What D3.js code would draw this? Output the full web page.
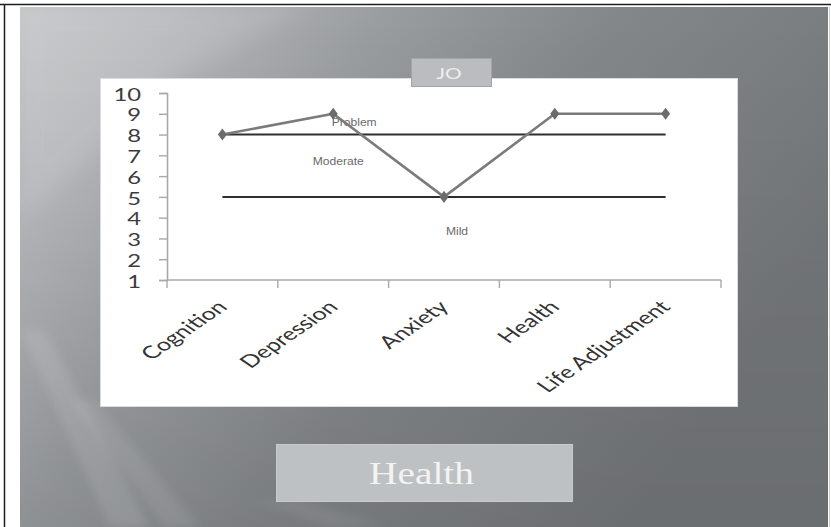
<!DOCTYPE html>
<html>
<head>
<meta charset="utf-8">
<script src="https://cdn.jsdelivr.net/npm/d3@7"></script>
<style>
  html, body { margin: 0; padding: 0; background: #ffffff; overflow: hidden; }
  svg { display: block; }
</style>
</head>
<body>
<svg id="chart" width="831" height="527"></svg>
<script>
// ---- data -------------------------------------------------------------
const categories = ["Cognition", "Depression", "Anxiety", "Health", "Life Adjustment"];
const scores = [8, 9, 5, 9, 9];
const thresholds = [8, 5];                     // problem / moderate, moderate / mild
const zoneLabels = ["Problem", "Moderate", "Mild"];
const yTicks = [1, 2, 3, 4, 5, 6, 7, 8, 9, 10];
const seriesName = "JO";
const slideTitle = "Health";

// ---- helpers ----------------------------------------------------------
// widen text horizontally by factor k while keeping its anchor
function widen(sel, k) {
  sel.each(function () {
    const w = this.getComputedTextLength();
    this.setAttribute("textLength", w * k);
    this.setAttribute("lengthAdjust", "spacingAndGlyphs");
  });
}

const svg = d3.select("#chart");
const defs = svg.append("defs");

// ---- slide background -------------------------------------------------
const bg = defs.append("linearGradient").attr("id", "slideBg")
  .attr("x1", 0).attr("y1", 0).attr("x2", 1).attr("y2", 0.45);
[[0, "#c3c5c7"], [0.16, "#b6b8bb"], [0.38, "#9a9da0"], [0.62, "#84878a"], [1, "#74777a"]]
  .forEach(([o, c]) => bg.append("stop").attr("offset", o).attr("stop-color", c));

const shade = defs.append("linearGradient").attr("id", "slideShade")
  .attr("x1", 0).attr("y1", 0).attr("x2", 0).attr("y2", 1);
shade.append("stop").attr("offset", 0).attr("stop-color", "#000").attr("stop-opacity", 0);
shade.append("stop").attr("offset", 1).attr("stop-color", "#000").attr("stop-opacity", 0.08);

defs.append("filter").attr("id", "soft").attr("x", "-50%").attr("y", "-50%")
  .attr("width", "200%").attr("height", "200%")
  .append("feGaussianBlur").attr("stdDeviation", 10);
defs.append("filter").attr("id", "softer").attr("x", "-50%").attr("y", "-50%")
  .attr("width", "200%").attr("height", "200%")
  .append("feGaussianBlur").attr("stdDeviation", 4);

defs.append("clipPath").attr("id", "slideClip")
  .append("rect").attr("x", 20).attr("y", 7).attr("width", 808).attr("height", 520);

const slide = svg.append("g").attr("clip-path", "url(#slideClip)");
slide.append("rect").attr("x", 20).attr("y", 7).attr("width", 808).attr("height", 520)
  .attr("fill", "url(#slideBg)");
slide.append("rect").attr("x", 20).attr("y", 7).attr("width", 808).attr("height", 520)
  .attr("fill", "url(#slideShade)");

// light streaks across the slide
const streaks = [
  { pts: [[20, 7], [310, 7], [180, 75], [20, 220]], op: 0.10, f: "soft" },
  { pts: [[20, 330], [45, 330], [150, 527], [110, 527]], op: 0.10, f: "softer" },
  { pts: [[70, 400], [95, 400], [200, 527], [165, 527]], op: 0.08, f: "softer" },
  { pts: [[250, 500], [300, 500], [390, 527], [330, 527]], op: 0.06, f: "softer" }
];
streaks.forEach(s => {
  slide.append("polygon")
    .attr("points", s.pts.map(p => p.join(",")).join(" "))
    .attr("fill", "#ffffff").attr("opacity", s.op)
    .attr("filter", `url(#${s.f})`);
});

// page frame lines
svg.append("line").attr("x1", 0).attr("x2", 831).attr("y1", 4.5).attr("y2", 4.5)
  .attr("stroke", "#1e1e1e").attr("stroke-width", 1.5);
svg.append("line").attr("x1", 4.5).attr("x2", 4.5).attr("y1", 4).attr("y2", 527)
  .attr("stroke", "#1e1e1e").attr("stroke-width", 1.5);
svg.append("line").attr("x1", 829.5).attr("x2", 829.5).attr("y1", 7).attr("y2", 527)
  .attr("stroke", "#d0d0d0").attr("stroke-width", 1);

// ---- chart panel ------------------------------------------------------
svg.append("rect").attr("x", 100.5).attr("y", 78.5).attr("width", 637).attr("height", 328)
  .attr("fill", "#ffffff").attr("stroke", "#dcdcdc").attr("stroke-width", 1);

const x = d3.scaleBand().domain(categories).range([167, 721]);
const y = d3.scaleLinear().domain([1, 10]).range([280, 93]);
const cx = c => x(c) + x.bandwidth() / 2;

const plot = svg.append("g");

// y axis
const yAxis = plot.append("g").attr("transform", "translate(167,0)")
  .call(d3.axisLeft(y).tickValues(yTicks).tickSize(8).tickPadding(18).tickFormat(d3.format("d")));
yAxis.select(".domain").attr("stroke", "#a9a9a9").attr("stroke-width", 1.6);
yAxis.selectAll(".tick line").attr("stroke", "#a9a9a9").attr("stroke-width", 1.4);
yAxis.selectAll(".tick text")
  .attr("fill", "#3c3c3c")
  .style("font-family", "Lato, 'Open Sans', sans-serif")
  .style("font-size", "17px")
  .attr("dy", "0.42em")
  .call(widen, 1.4);

// x axis: baseline with ticks on the category boundaries
const xAxis = plot.append("g");
const edges = categories.map(c => x(c)).concat([x.range()[1]]);
xAxis.append("line")
  .attr("x1", x.range()[0]).attr("x2", x.range()[1])
  .attr("y1", y(1)).attr("y2", y(1))
  .attr("stroke", "#a9a9a9").attr("stroke-width", 1.6);
xAxis.selectAll("line.tick").data(edges).join("line").attr("class", "tick")
  .attr("x1", d => d).attr("x2", d => d)
  .attr("y1", y(1)).attr("y2", y(1) + 8)
  .attr("stroke", "#a9a9a9").attr("stroke-width", 1.4);

xAxis.selectAll("text.cat").data(categories).join("text").attr("class", "cat")
  .attr("transform", d => `translate(${cx(d) + 6},${y(1) + 28}) scale(1.45,1) rotate(-45)`)
  .attr("text-anchor", "end")
  .attr("fill", "#333333")
  .style("font-family", "Lato, 'Open Sans', sans-serif")
  .style("font-size", "17.5px")
  .text(d => d);

// threshold lines between the zones
plot.selectAll("line.limit").data(thresholds).join("line").attr("class", "limit")
  .attr("x1", cx(categories[0])).attr("x2", cx(categories[categories.length - 1]))
  .attr("y1", d => y(d)).attr("y2", d => y(d))
  .attr("stroke", "#2e2e2e").attr("stroke-width", 2);

// zone names
const zoneFont = sel => sel
  .attr("fill", "#6a6a6a")
  .attr("text-anchor", "middle")
  .style("font-family", "'Liberation Sans', Arial, sans-serif")
  .style("font-size", "10.5px");
plot.append("text").attr("x", cx("Depression") + 21).attr("y", y(8.62) + 4)
  .text(zoneLabels[0]).call(zoneFont).call(widen, 1.15);
plot.append("text").attr("x", cx("Depression") + 5).attr("y", y(6.74) + 4)
  .text(zoneLabels[1]).call(zoneFont).call(widen, 1.15);
plot.append("text").attr("x", cx("Anxiety") + 13).attr("y", y(3.37) + 4)
  .text(zoneLabels[2]).call(zoneFont).call(widen, 1.15);

// score series
const points = categories.map((c, i) => ({ c, v: scores[i] }));
plot.append("path").datum(points)
  .attr("fill", "none").attr("stroke", "#7b7b7b").attr("stroke-width", 2.6)
  .attr("stroke-linejoin", "round")
  .attr("d", d3.line().x(d => cx(d.c)).y(d => y(d.v)));
plot.selectAll("path.marker").data(points).join("path").attr("class", "marker")
  .attr("transform", d => `translate(${cx(d.c)},${y(d.v)}) scale(1.3,1)`)
  .attr("d", d3.symbol(d3.symbolDiamond, 42)())
  .attr("fill", "#6c6c6c");

// series name tab
svg.append("rect").attr("x", 411.5).attr("y", 58.5).attr("width", 80).attr("height", 28)
  .attr("fill", "#babcbf").attr("stroke", "#a3a5a8").attr("stroke-width", 1);
svg.append("text").attr("x", 449).attr("y", 78.5)
  .attr("text-anchor", "middle").attr("fill", "#eeeeee")
  .style("font-family", "Lato, 'Open Sans', sans-serif")
  .style("font-size", "16px")
  .text(seriesName).call(widen, 1.3);

// slide title box
svg.append("rect").attr("x", 276.5).attr("y", 444.5).attr("width", 296).attr("height", 57)
  .attr("fill", "#bec1c3").attr("stroke", "#c8cacc").attr("stroke-width", 1);
svg.append("text").attr("x", 421.5).attr("y", 483.5)
  .attr("text-anchor", "middle").attr("fill", "#f3f3f3")
  .style("font-family", "'Liberation Serif', 'DejaVu Serif', serif")
  .style("font-size", "32px")
  .attr("textLength", 105).attr("lengthAdjust", "spacingAndGlyphs")
  .text(slideTitle);
</script>
</body>
</html>
